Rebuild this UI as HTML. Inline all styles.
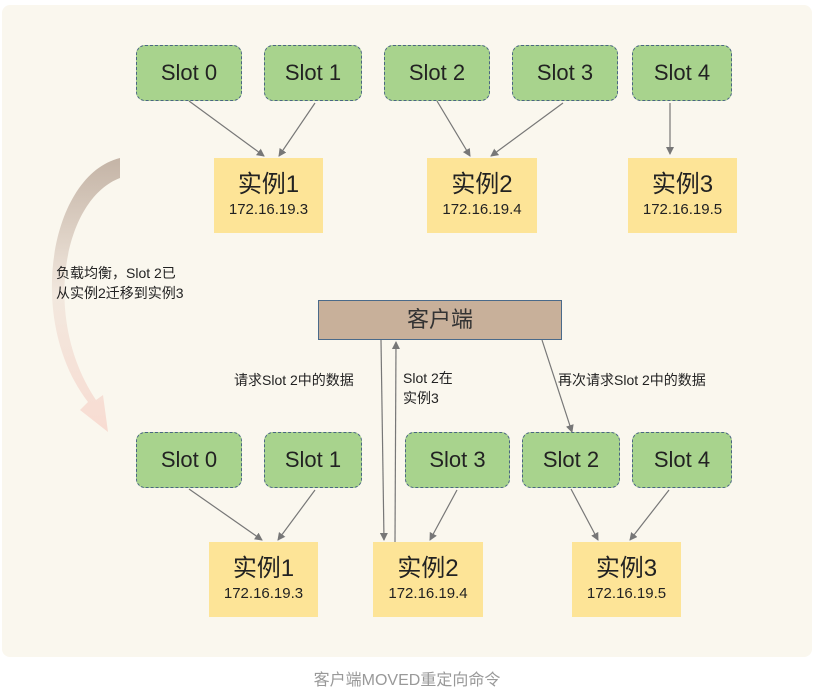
<!DOCTYPE html>
<html><head><meta charset="utf-8"><style>
body{margin:0;background:#fff;width:814px;height:693px;overflow:hidden;font-family:"Liberation Sans","Noto Sans CJK SC",sans-serif}
.bg{position:absolute;left:2px;top:5px;width:810px;height:652px;background:#faf7ee;border-radius:8px}
.s{position:absolute;box-sizing:border-box;background:#a8d38d;border:1.5px dashed #4a6682;border-radius:9px;font-size:22px;color:#222;display:flex;align-items:center;justify-content:center}
.i{position:absolute;background:#fde497;text-align:center;color:#222}
.i b{display:block;font-weight:normal;font-size:24px;margin-top:12px;line-height:30px}
.i span{font-size:15px;line-height:20px}
.t{position:absolute;font-size:14px;color:#222;line-height:20px}
</style></head><body>
<div class="bg"></div>
<svg width="814" height="693" style="position:absolute;left:0;top:0">
<defs><linearGradient id="g" x1="0" y1="0" x2="0" y2="1"><stop offset="0" stop-color="#c4b4a6"/><stop offset="0.5" stop-color="#f2e8de"/><stop offset="1" stop-color="#f8dcd2"/></linearGradient>
<marker id="a" markerWidth="8" markerHeight="8" refX="7" refY="4" orient="auto" markerUnits="userSpaceOnUse"><path d="M0,0 L8,4 L0,8 Z" fill="#777"/></marker></defs>
<path d="M120,158 C50,175 25,320 88,402 L80,410 L108,432 L103,395 L96,400 C42,320 62,200 120,178 Z" fill="url(#g)"/>
<g stroke="#777" stroke-width="1.2" fill="none" marker-end="url(#a)">
<line x1="189" y1="101" x2="264" y2="156"/><line x1="315" y1="103" x2="279" y2="156"/>
<line x1="437" y1="101" x2="470" y2="156"/><line x1="563" y1="103" x2="491" y2="156"/>
<line x1="670" y1="103" x2="670" y2="154"/>
<line x1="189" y1="489" x2="262" y2="540"/><line x1="315" y1="490" x2="278" y2="540"/>
<line x1="457" y1="490" x2="430" y2="540"/>
<line x1="571" y1="489" x2="598" y2="540"/><line x1="669" y1="490" x2="630" y2="540"/>
<line x1="381" y1="340" x2="384" y2="540"/><line x1="395" y1="542" x2="396" y2="342"/>
<line x1="542" y1="340" x2="572" y2="432"/>
</g></svg>
<div class="s" style="left:136px;top:45px;width:106px;height:56px">Slot 0</div>
<div class="s" style="left:264px;top:45px;width:98px;height:56px">Slot 1</div>
<div class="s" style="left:384px;top:45px;width:106px;height:56px">Slot 2</div>
<div class="s" style="left:512px;top:45px;width:106px;height:56px">Slot 3</div>
<div class="s" style="left:632px;top:45px;width:100px;height:56px">Slot 4</div>
<div class="i" style="left:214px;top:158px;width:109px;height:75px"><b>实例1</b><span>172.16.19.3</span></div>
<div class="i" style="left:427px;top:158px;width:110px;height:75px"><b>实例2</b><span>172.16.19.4</span></div>
<div class="i" style="left:628px;top:158px;width:109px;height:75px"><b>实例3</b><span>172.16.19.5</span></div>
<div style="position:absolute;left:318px;top:300px;width:244px;height:40px;box-sizing:border-box;background:#c8b09a;border:1.5px solid #4a6a8a;font-size:22px;color:#333;text-align:center;line-height:37px">客户端</div>
<div class="t" style="left:56px;top:263px">负载均衡，Slot 2已<br>从实例2迁移到实例3</div>
<div class="t" style="left:234px;top:370px">请求Slot 2中的数据</div>
<div class="t" style="left:403px;top:368px">Slot 2在<br>实例3</div>
<div class="t" style="left:558px;top:370px">再次请求Slot 2中的数据</div>
<div class="s" style="left:136px;top:432px;width:106px;height:56px">Slot 0</div>
<div class="s" style="left:264px;top:432px;width:98px;height:56px">Slot 1</div>
<div class="s" style="left:405px;top:432px;width:105px;height:56px">Slot 3</div>
<div class="s" style="left:522px;top:432px;width:98px;height:56px">Slot 2</div>
<div class="s" style="left:632px;top:432px;width:100px;height:56px">Slot 4</div>
<div class="i" style="left:209px;top:542px;width:109px;height:75px"><b>实例1</b><span>172.16.19.3</span></div>
<div class="i" style="left:373px;top:542px;width:110px;height:75px"><b>实例2</b><span>172.16.19.4</span></div>
<div class="i" style="left:572px;top:542px;width:109px;height:75px"><b>实例3</b><span>172.16.19.5</span></div>
<div style="position:absolute;left:0;width:814px;top:666px;text-align:center;font-size:16px;color:#999">客户端MOVED重定向命令</div>
</body></html>
